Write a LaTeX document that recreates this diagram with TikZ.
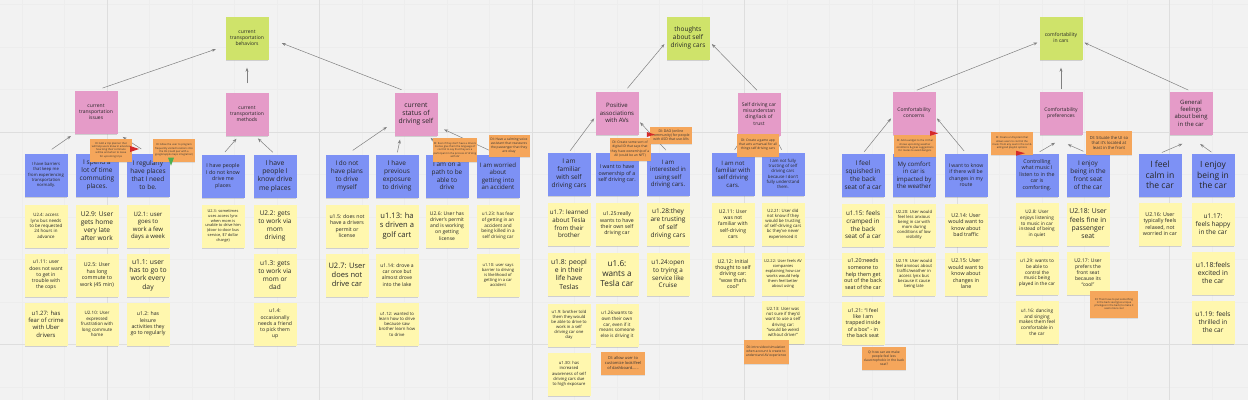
\documentclass[tikz,border=0pt]{standalone}
\usepackage{fontspec}
\setmainfont{Open Sans}
\usetikzlibrary{arrows.meta,shadows}

\definecolor{board}{HTML}{F2F2F2}
\definecolor{themegreen}{HTML}{CFE36A}
\definecolor{clusterpink}{HTML}{E59BC8}
\definecolor{insightblue}{HTML}{7D91F5}
\definecolor{quoteyellow}{HTML}{FFF7AE}
\definecolor{ideaorange}{HTML}{F5A65B}
\definecolor{flagred}{HTML}{D42A2A}
\definecolor{thumbgreen}{HTML}{4CAF50}

\tikzset{
  minorgrid/.style={draw=black!7, line width=0.5pt},
  majorgrid/.style={draw=black!13, line width=0.6pt},
  note/.style={minimum width=43pt, minimum height=43pt, inner sep=1pt, align=center, text=black!85,
    drop shadow={shadow xshift=0pt, shadow yshift=-2pt, shadow scale=0.96, opacity=0.3}},
  theme/.style={note, fill=themegreen},
  cluster/.style={note, fill=clusterpink},
  insight/.style={note, fill=insightblue},
  quote/.style={note, fill=quoteyellow},
  idea/.style={fill=ideaorange, minimum width=42pt, minimum height=23pt, inner sep=1pt, align=center, text=black!80,
    drop shadow={shadow xshift=0pt, shadow yshift=-1pt, opacity=0.2}},
  sz/.style={font=\fontsize{#1}{#1}\linespread{1.22}\selectfont},
  link/.style={draw=black!50, line width=0.5pt, -{Stealth[length=4pt,width=3pt]}, shorten <=4pt, shorten >=4pt},
}

\begin{document}
\begin{tikzpicture}[x=1pt,y=-1pt]
\useasboundingbox (0,0) rectangle (1248,400);
\fill[board] (0,0) rectangle (1248,400);
\foreach \gx in {22,64.5,...,1248} \draw[minorgrid] (\gx,0) -- (\gx,400);
\foreach \gy in {4.5,47,...,400} \draw[minorgrid] (0,\gy) -- (1248,\gy);
\foreach \gx in {107,319.5,...,1248} \draw[majorgrid] (\gx,0) -- (\gx,400);
\foreach \gy in {132,344.5} \draw[majorgrid] (0,\gy) -- (1248,\gy);

% themes
\node[theme, sz=5] (g1) at (247,38) {current\\transportation\\behaviors};
\node[theme, sz=6.5] (g2) at (688,38) {thoughts\\about self\\driving cars};
\node[theme, sz=5] (g3) at (1061,38) {comfortability\\in cars};

% clusters
\node[cluster, sz=5] (p1) at (96,112) {current\\transportation\\issues};
\node[cluster, sz=5] (p2) at (247,114) {current\\transportation\\methods};
\node[cluster, sz=6.8] (p3) at (416,114) {current\\status of\\driving self};
\node[cluster, sz=6] (p4) at (617,113) {Positive\\associations\\with AVs};
\node[cluster, sz=5] (p5) at (759,114) {Self driving car\\misunderstan\\ding/lack of\\trust};
\node[cluster, sz=5] (p6) at (914,113) {Comfortability\\concerns};
\node[cluster, sz=5] (p7) at (1061,113) {Comfortability\\preferences};
\node[cluster, sz=5.9] (p8) at (1191,113) {General\\feelings\\about being\\in the car};

% insights
\node[insight, sz=4.2] (b1) at (46,175) {I have barriers\\that keep me\\from experiencing\\transportation\\normally.};
\node[insight, sz=6.5] (b2) at (97,175) {I spend a\\lot of time\\commuting\\places.};
\node[insight, sz=6.5] (b3) at (148,175) {I regularly\\have places\\that I need\\to be.};
\node[insight, sz=5.3] (b4) at (223,176) {I have people\\I do not know\\drive me\\places};
\node[insight, sz=6.8] (b5) at (275,176) {I have\\people I\\know drive\\me places};
\node[insight, sz=6.4] (b6) at (347,176) {I do not\\have plans\\to drive\\myself};
\node[insight, sz=6.5] (b7) at (397,176) {I have\\previous\\exposure\\to driving};
\node[insight, sz=6.4] (b8) at (447,176) {I am on a\\path to be\\able to\\drive};
\node[insight, sz=6.1] (b9) at (498,176) {I am worried\\about\\getting into\\an accident};
\node[insight, sz=6.5] (b10) at (569,174) {I am\\familiar\\with self\\driving cars};
\node[insight, sz=5.3] (b11) at (617,174) {I want to have\\ownership of a\\self driving car.};
\node[insight, sz=6.1] (b12) at (668,174) {I am\\interested in\\using self\\driving cars.};
\node[insight, sz=6] (b13) at (733,174) {I am not\\familiar with\\self driving\\cars.};
\node[insight, sz=4.3] (b14) at (783,174) {I am not fully\\trusting of self\\driving cars\\because I don't\\fully understand\\them.};
\node[insight, sz=6.5] (b15) at (863,175) {I feel\\squished in\\the back\\seat of a car};
\node[insight, sz=6.1] (b16) at (914,175) {My comfort\\in car is\\impacted by\\the weather};
\node[insight, sz=5.1] (b17) at (966,175) {I want to know\\if there will be\\changes in my\\route};
\node[insight, sz=5.3] (b18) at (1037,175) {Controlling\\what music I\\listen to in the\\car is\\comforting.};
\node[insight, sz=6.4] (b19) at (1088,175) {I enjoy\\being in the\\front seat\\of the car};
\node[insight, sz=8.6] (b20) at (1160,175) {I feel\\calm in\\the car};
\node[insight, sz=8.5] (b21) at (1213,175) {I enjoy\\being in\\the car};

% quotes
\node[quote, sz=4.4] (y1a) at (46,226) {U2.4: access\\lynx bus needs\\to be requested\\24 hours in\\advance};
\node[quote, sz=5] (y1b) at (46,275) {u1.11: user\\does not want\\to get in\\trouble with\\the cops};
\node[quote, sz=5.9] (y1c) at (46,324) {u1.27: has\\fear of crime\\with Uber\\drivers};
\node[quote, sz=6.6] (y2a) at (97,226) {U2.9: User\\gets home\\very late\\after work};
\node[quote, sz=5.3] (y2b) at (97,275) {U2.5: User\\has long\\commute to\\work (45 min)};
\node[quote, sz=4.5] (y2c) at (97,324) {U2.10: User\\expressed\\frustration with\\long commute\\home};
\node[quote, sz=6] (y3a) at (148,226) {U2.1: user\\goes to\\work a few\\days a week};
\node[quote, sz=6.8] (y3b) at (148,275) {u1.1: user\\has to go to\\work every\\day};
\node[quote, sz=5.2] (y3c) at (148,324) {u1.2: has\\leisure\\activities they\\go to regularly};
\node[quote, sz=3.9] (y4a) at (223,226) {U2.3: sometimes\\uses access lynx\\when mom is\\unable to drive him\\(door to door bus\\service, \$7 dollar\\charge)};
\node[quote, sz=6.5] (y5a) at (275,226) {U2.2: gets\\to work via\\mom\\driving};
\node[quote, sz=6.5] (y5b) at (275,275) {u1.3: gets\\to work via\\mom or\\dad};
\node[quote, sz=5.1] (y5c) at (275,324) {u1.4:\\occasionally\\needs a friend\\to pick them\\up};
\node[quote, sz=5.2] (y6a) at (347,226) {u1.5: does not\\have a drivers\\permit or\\license};
\node[quote, sz=7.5] (y6b) at (347,275) {U2.7: User\\does not\\drive car};
\node[quote, sz=7.6] (y7a) at (397,226) {u1.13: ha\\s driven a\\golf cart};
\node[quote, sz=5] (y7b) at (397,275) {u1.14: drove a\\car once but\\almost drove\\into the lake};
\node[quote, sz=4.3] (y7c) at (397,324) {u1.12: wanted to\\learn how to drive\\because saw\\brother learn how\\to drive};
\node[quote, sz=5] (y8a) at (447,226) {U2.6: User has\\driver's permit\\and is working\\on getting\\license};
\node[quote, sz=4.6] (y9a) at (498,226) {u1.23: has fear\\of getting in an\\accident and\\being killed in a\\self driving car};
\node[quote, sz=4.1] (y9b) at (498,275) {u1.10: user says\\barrier to driving\\is likelihood of\\getting in a car\\accident};
\node[quote, sz=6.2] (y10a) at (569,224) {u1.7: learned\\about Tesla\\from their\\brother};
\node[quote, sz=6.8] (y10b) at (569,274) {u1.8: peopl\\e in their\\life have\\Teslas};
\node[quote, sz=4.2] (y10c) at (569,325) {u1.9: brother told\\them they would\\be able to drive to\\work in a self\\driving car one\\day};
\node[quote, sz=4.2] (y10d) at (569,374) {u1.30: has\\increased\\awareness of self\\driving cars due\\to high exposure};
\node[quote, sz=5.2] (y11a) at (617,224) {u1.25:really\\wants to have\\their own self\\driving car};
\node[quote, sz=8.2] (y11b) at (617,274) {u1.6:\\wants a\\Tesla car};
\node[quote, sz=4.6] (y11c) at (617,325) {u1.26:wants to\\own their own\\car, even if it\\means someone\\else is driving it};
\node[quote, sz=6.5] (y12a) at (668,224) {u1.28:they\\are trusting\\of self\\driving cars};
\node[quote, sz=6.3] (y12b) at (668,274) {u1.24:open\\to trying a\\service like\\Cruise};
\node[quote, sz=5.1] (y13a) at (733,224) {U2.11: User\\was not\\familiar with\\self-driving\\cars};
\node[quote, sz=5.2] (y13b) at (733,274) {U2.12: Initial\\thought to self\\driving car:\\``wow that's\\cool''};
\node[quote, sz=4.3] (y14a) at (783,224) {U2.21: User did\\not know if they\\would be trusting\\of self-driving cars\\bc they've never\\experienced it};
\node[quote, sz=4] (y14b) at (783,274) {U2.22: User feels AV\\companies\\explaining how car\\works would help\\them feel better\\about using};
\node[quote, sz=4.3] (y14c) at (783,322) {U2.13: User was\\not sure if they'd\\want to use a self\\driving car:\\``would be weird\\without driver''};
\node[quote, sz=6.3] (y15a) at (863,225) {u1.15: feels\\cramped in\\the back\\seat of a car};
\node[quote, sz=5.4] (y15b) at (863,274) {u1.20:needs\\someone to\\help them get\\out of the back\\seat of the car};
\node[quote, sz=5.2] (y15c) at (863,323) {u1.21: ``I feel\\like I am\\trapped inside\\of a box'' - in\\the back seat};
\node[quote, sz=4.2] (y16a) at (914,225) {U2.20: User would\\feel less anxious\\being in car with\\mom during\\conditions of low\\visibility};
\node[quote, sz=4.2] (y16b) at (914,274) {U2.19: User would\\feel anxious about\\traffic/weather in\\access lynx bus\\because it cause\\being late};
\node[quote, sz=5.3] (y17a) at (966,225) {U2.14: User\\would want to\\know about\\bad traffic};
\node[quote, sz=5.3] (y17b) at (966,274) {U2.15: User\\would want to\\know about\\changes in\\lane};
\node[quote, sz=4.7] (y18a) at (1037,224) {U2.8: User\\enjoys listening\\to music in car\\instead of being\\in quiet};
\node[quote, sz=4.7] (y18b) at (1037,273) {u1.29: wants to\\be able to\\control the\\music being\\played in the car};
\node[quote, sz=4.7] (y18c) at (1037,322) {u1.16: dancing\\and singing\\makes them feel\\comfortable in\\the car};
\node[quote, sz=6.8] (y19a) at (1088,224) {U2.18: User\\feels fine in\\passenger\\seat};
\node[quote, sz=5] (y19b) at (1088,273) {U2.17: User\\prefers the\\front seat\\because its\\``cool''};
\node[quote, sz=5.3] (y20a) at (1160,224) {U2.16: User\\typically feels\\relaxed, not\\worried in car};
\node[quote, sz=6.5] (y21a) at (1213,224) {u1.17:\\feels happy\\in the car};
\node[quote, sz=6.8] (y21b) at (1213,273) {u1.18:feels\\excited in\\the car};
\node[quote, sz=6.5] (y21c) at (1213,322) {u1.19: feels\\thrilled in\\the car};

% clusters to themes
\draw[link, shorten <=7pt, shorten >=10pt] (p1.north) -- (g1.200);
\draw[link, shorten <=9pt, shorten >=8pt] (p2.north) -- (g1.south);
\draw[link, shorten <=7pt, shorten >=14pt] (p3.110) -- (g1.east);
\draw[link, shorten <=4pt, shorten >=3pt] (p4.70) -- (g2.190);
\draw[link, shorten <=3pt, shorten >=3pt] (p5.north) -- (g2.350);
\draw[link, shorten <=3pt, shorten >=2pt] (p6.north) -- (g3.190);
\draw[link, shorten <=2pt, shorten >=8pt] (p7.north) -- (g3.south);
\draw[link, shorten <=3pt, shorten >=2pt] (p8.north) -- (g3.350);

% insights to clusters
\draw[link, shorten <=7pt, shorten >=4pt] (b1.north) -- (p1.south west);
\draw[link, shorten <=8pt, shorten >=6pt] (b3.north) -- (p1.south east);
\draw[link, shorten <=3pt, shorten >=4pt] (b4.north) -- (p2.250);
\draw[link, shorten <=3pt, shorten >=4pt] (b5.north) -- (p2.290);
\draw[link, shorten <=7pt, shorten >=9pt] (b6.north) -- (p3.200);
\draw[link, shorten <=2pt, shorten >=4pt] (b7.north) -- (p3.235);
\draw[link, shorten <=3pt, shorten >=3pt] (b8.north) -- (p3.300);
\draw[link, shorten <=3pt, shorten >=7pt] (b9.north) -- (p3.330);
\draw[link, shorten <=2pt, shorten >=2pt] (b10.north) -- (p4.190);
\draw[link, shorten <=3pt, shorten >=2pt] (b12.north) -- (p4.340);
\draw[link, shorten <=3pt, shorten >=3pt] (b13.north) -- (p5.235);
\draw[link, shorten <=3pt, shorten >=3pt] (b14.north) -- (p5.305);
\draw[link, shorten <=2pt, shorten >=2pt] (b15.north) -- (p6.190);
\draw[link, shorten <=3pt, shorten >=2pt] (b17.north) -- (p6.350);
\draw[link, shorten <=3pt, shorten >=16pt] (b18.north) -- (p7.290);
\draw[link, shorten <=5pt, shorten >=24pt] (b19.north) -- (p7.235);
\draw[link, shorten <=2pt, shorten >=23pt] (b20.north) -- (p8.300);
\draw[link, shorten <=2pt, shorten >=16pt] (b21.north) -- (p8.260);

% design ideas
\node[idea, sz=2.6] (o1) at (111,150) {DI: Add a trip planner that\\will help users know in advance\\how long their commute\\will be and when to leave\\for upcoming trips};
\node[idea, sz=2.6] (o2) at (174,150) {DI: Allow the user to program\\frequently visited locations into\\the AV (could pair with a\\google/apple maps integration)};
\node[idea, sz=2.6, minimum width=41pt, minimum height=24pt] (o3) at (455,150) {DI: Even if they don't have a drivers\\license give them the language of\\control to say that they are a\\participant in the process of driving\\with AV};
\node[idea, sz=3.3, minimum width=41pt, minimum height=22pt] (o4) at (509,146) {DI: Have a calming voice\\assistant that reassures\\the passenger that they\\are okay};
\node[idea, sz=3.3, minimum width=41pt] (o5) at (630,149) {DI: Create some sort of\\digital ID that says that\\they have ownership of a\\AV (could be an NFT)};
\node[idea, sz=3.5, minimum height=17pt] (o6) at (671,135) {DI: DAO (online\\community) for people\\with ASD that use AVs};
\node[idea, sz=3.3] (o7) at (758,145) {DI: Create a game app\\that acts a manual for all\\things self driving cars};
\node[idea, sz=3.3, minimum width=45pt, minimum height=24pt] (o8) at (766,352) {DI: intro video/simulation\\when account is create to\\understand AV experience};
\node[idea, sz=2.6, minimum height=22pt] (o9) at (915,146) {DI: Add a widget to the UI that\\shows upcoming weather\\conditions \& gives suggestions\\for routes to avoid dangers};
\node[idea, sz=3.3, minimum width=44pt] (o10) at (884,358) {Q: how can we make\\people feel less\\claustrophobic in the back\\seat?};
\node[idea, sz=2.6, minimum width=41pt] (o11) at (1012,143) {DI: Create a UI/system that\\allows users to control the\\music from any seat in the car \&\\add good playlist options};
\node[idea, sz=4.2, minimum width=46pt, minimum height=24pt] (o12) at (1109,143) {DI: Situate the UI so\\that it's located at\\least in the front};
\node[idea, sz=2.6, minimum width=48pt, minimum height=27pt] (o13) at (1114,304) {DI: Then have to put something\\in the back seat (give unique\\privileges in the back) to make it\\seem more cool};
\node[idea, sz=4, minimum width=44pt] (o14) at (623,363) {DI: allow user to\\customize look/feel\\of dashboard......};

% flags
\fill[flagred] (o1.east) ++(-2,-4) -- ++(9,3) -- ++(-9,3) -- cycle;
\fill[thumbgreen] (o2.south) ++(-6,-4) -- ++(6,0) -- ++(-3,8) -- cycle;
\fill[flagred] (o6.west) ++(-3,-3) -- ++(8,2.5) -- ++(-8,2.5) -- cycle;
\fill[flagred] (o9.north east) ++(-6,-4) -- ++(8,2.5) -- ++(-8,2.5) -- cycle;
\fill[flagred] (o11.south) ++(4,-4) -- ++(9,2.5) -- ++(-9,2.5) -- cycle;
\end{tikzpicture}
\end{document}
